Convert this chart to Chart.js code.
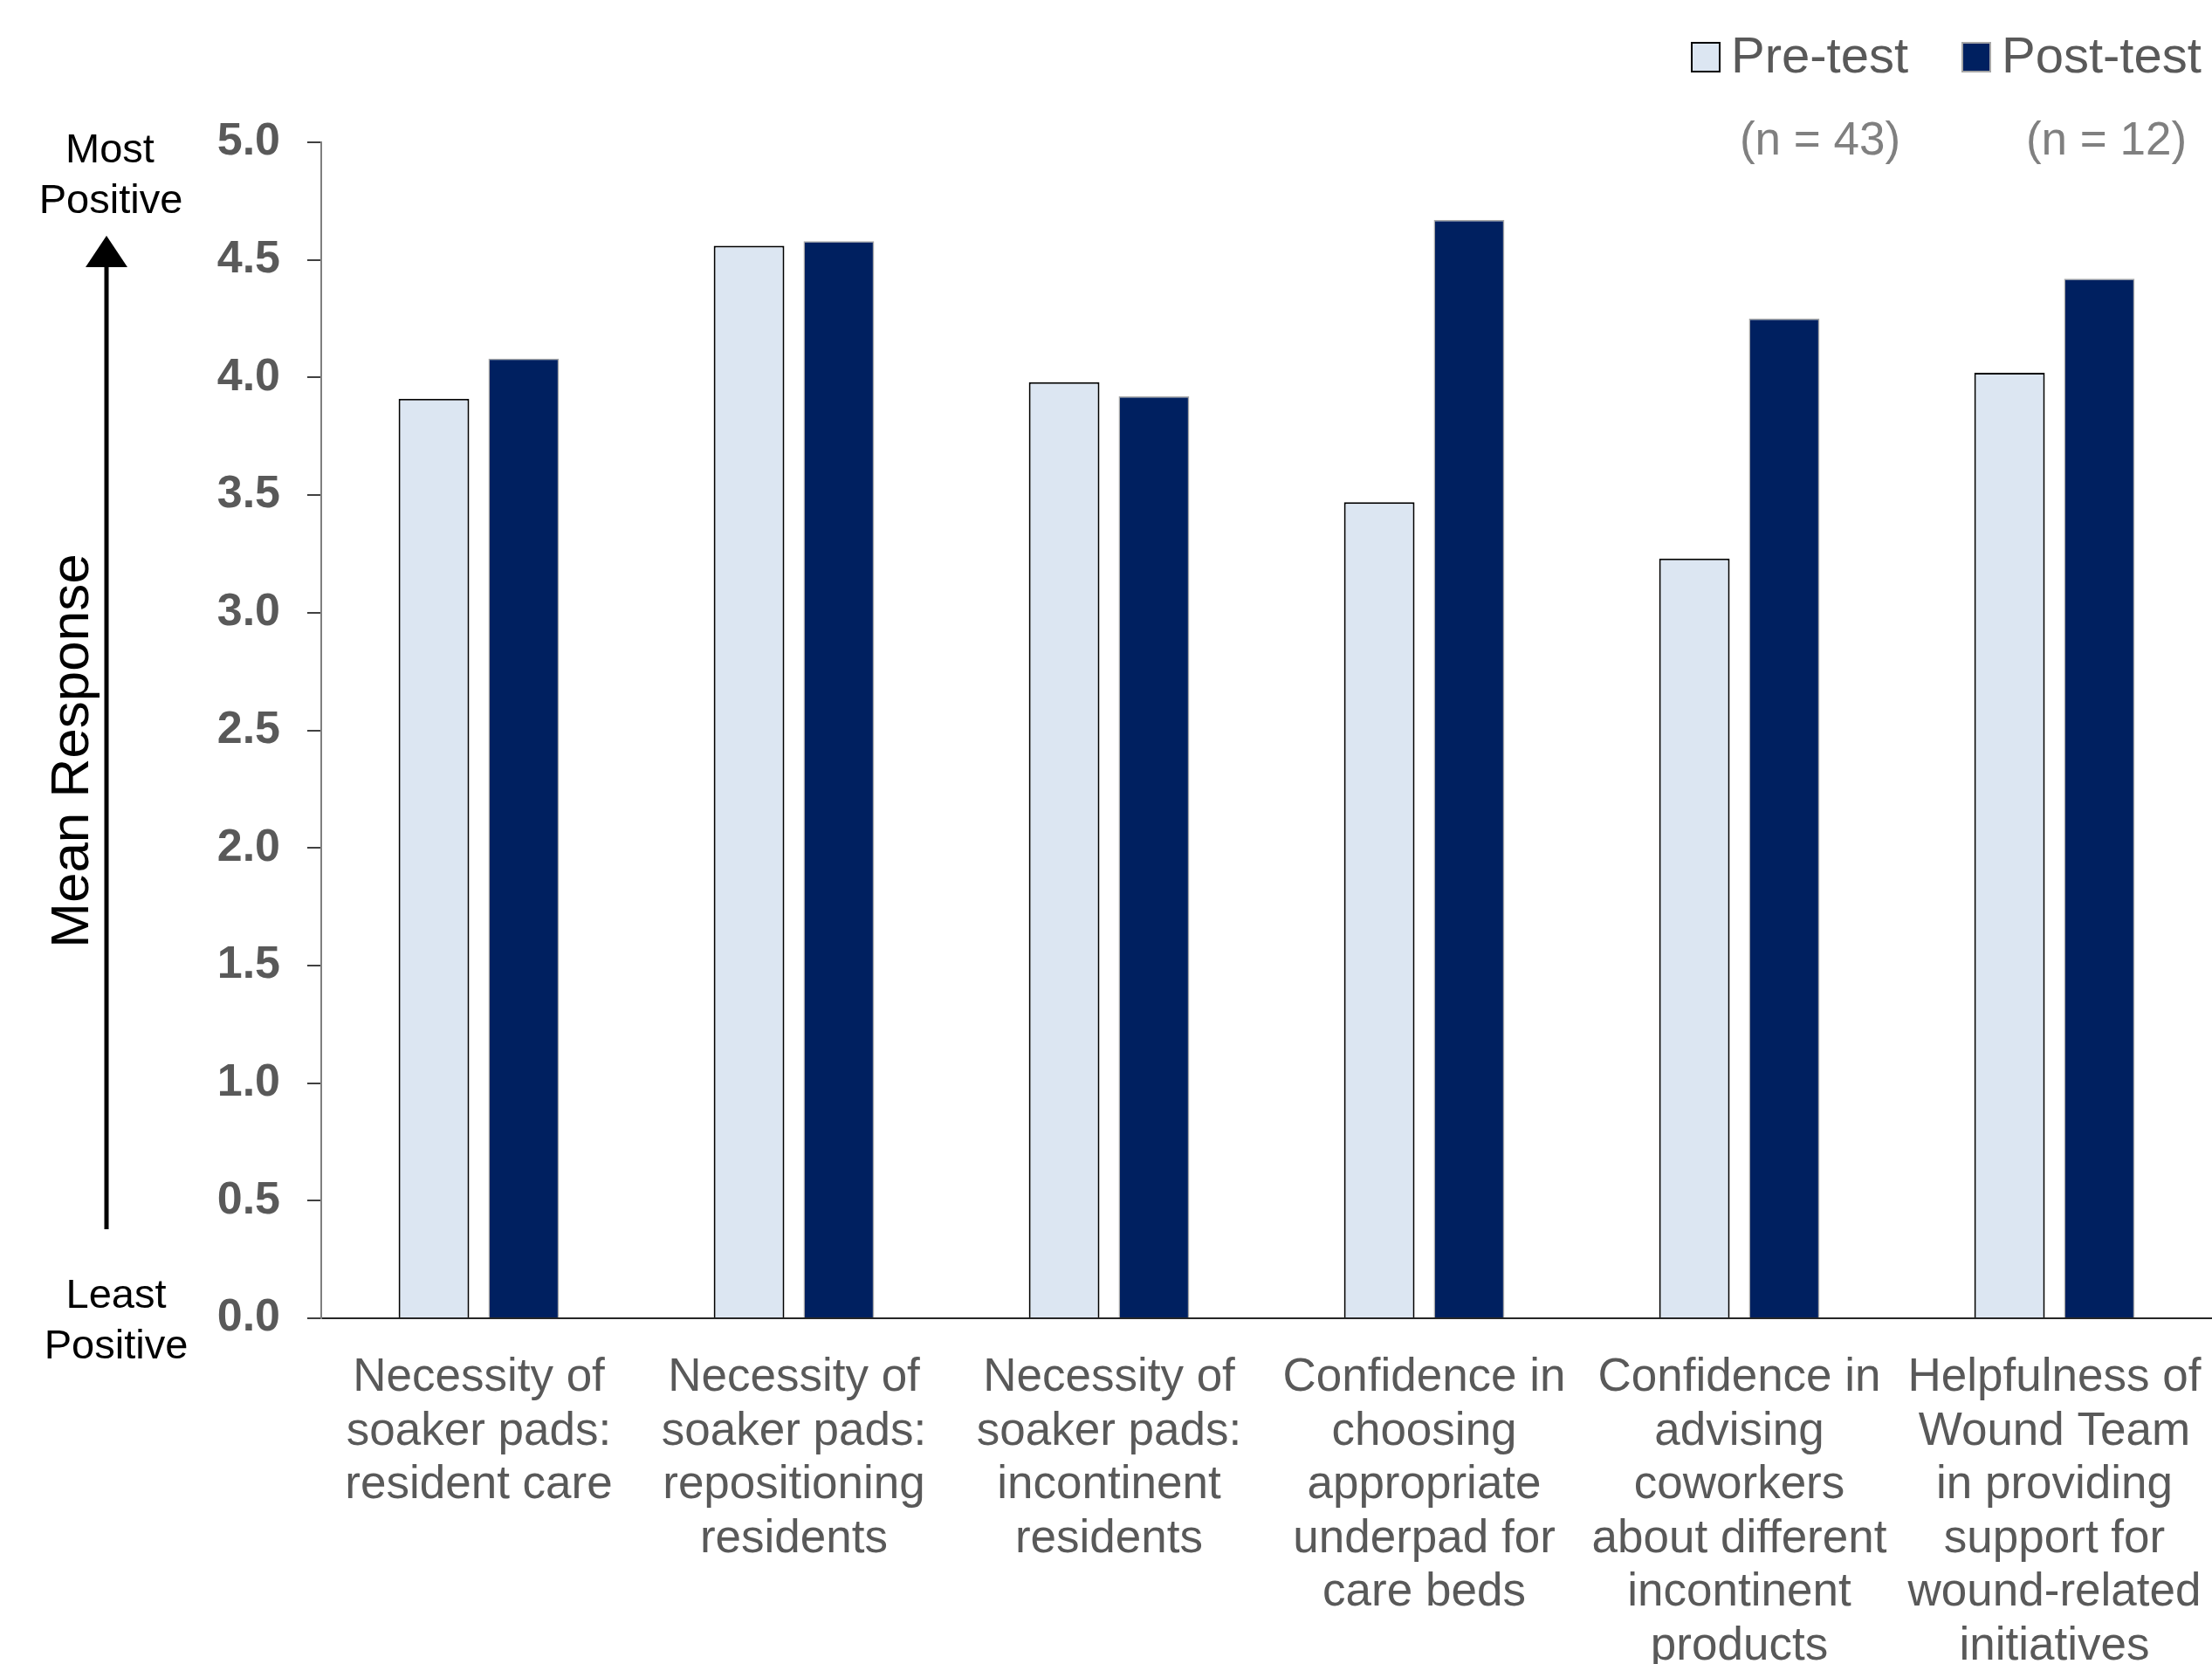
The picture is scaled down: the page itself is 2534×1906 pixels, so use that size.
<!DOCTYPE html>
<html>
<head>
<meta charset="utf-8">
<title>Mean Response</title>
<script src="https://cdn.jsdelivr.net/npm/chart.js@4"></script>
<style>
  html, body { margin: 0; padding: 0; background: #ffffff; }
  canvas { display: block; }
</style>
</head>
<body>
<canvas id="chart" width="2534" height="1906"></canvas>
<script>
const categories = [
  ["Necessity of", "soaker pads:", "resident care"],
  ["Necessity of", "soaker pads:", "repositioning", "residents"],
  ["Necessity of", "soaker pads:", "incontinent", "residents"],
  ["Confidence in", "choosing", "appropriate", "underpad for", "care beds"],
  ["Confidence in", "advising", "coworkers", "about different", "incontinent", "products"],
  ["Helpfulness of", "Wound Team", "in providing", "support for", "wound-related", "initiatives"]
];
const preTest = [3.91, 4.56, 3.98, 3.47, 3.23, 4.02];
const postTest = [4.08, 4.58, 3.92, 4.67, 4.25, 4.42];
const seriesNames = ["Pre-test", "Post-test"];
const sampleSizes = ["(n = 43)", "(n = 12)"];
const yTickValues = [0, 0.5, 1, 1.5, 2, 2.5, 3, 3.5, 4, 4.5, 5];

const FONT = "'Liberation Sans', Arial, sans-serif";

// left side notes, arrow and legend drawn on top of the chart
const annotations = {
  id: "annotations",
  afterDraw(chart) {
    const ctx = chart.ctx;
    ctx.save();

    // y axis title + direction arrow
    ctx.fillStyle = "#000000";
    ctx.textAlign = "center";
    ctx.textBaseline = "alphabetic";
    ctx.font = "47px " + FONT;
    ctx.fillText("Most", 126, 186);
    ctx.fillText("Positive", 127, 244);
    ctx.fillText("Least", 133, 1498);
    ctx.fillText("Positive", 133, 1556);

    ctx.strokeStyle = "#000000";
    ctx.lineWidth = 5;
    ctx.beginPath();
    ctx.moveTo(122, 1408);
    ctx.lineTo(122, 300);
    ctx.stroke();
    ctx.beginPath();
    ctx.moveTo(122, 270);
    ctx.lineTo(146, 306);
    ctx.lineTo(98, 306);
    ctx.closePath();
    ctx.fill();

    ctx.save();
    ctx.translate(84, 860);
    ctx.rotate(-Math.PI / 2);
    ctx.font = "62px " + FONT;
    ctx.textBaseline = "middle";
    ctx.fillText("Mean Response", 0, 0);
    ctx.restore();

    // legend
    const boxes = [1938, 2248];
    const nCenters = [2085, 2413];
    chart.data.datasets.forEach((ds, i) => {
      ctx.fillStyle = ds.backgroundColor;
      ctx.fillRect(boxes[i], 49, 32, 33);
      ctx.strokeStyle = ds.borderColor;
      ctx.lineWidth = 2;
      ctx.strokeRect(boxes[i], 49, 32, 33);

      ctx.fillStyle = "#595959";
      ctx.font = "58px " + FONT;
      ctx.textAlign = "left";
      ctx.fillText(ds.label, boxes[i] + 45, 83);

      ctx.fillStyle = "#808080";
      ctx.font = "53px " + FONT;
      ctx.textAlign = "center";
      ctx.fillText(sampleSizes[i], nCenters[i], 177);
    });

    ctx.restore();
  }
};

const ctx = document.getElementById("chart").getContext("2d");
const meanChart = new Chart(ctx, {
  type: "bar",
  data: {
    labels: categories,
    datasets: [
      {
        label: seriesNames[0],
        data: preTest,
        backgroundColor: "#dce6f2",
        borderColor: "#000000",
        borderWidth: 2,
        categoryPercentage: 0.57,
        barPercentage: 0.786
      },
      {
        label: seriesNames[1],
        data: postTest,
        backgroundColor: "#002060",
        borderColor: "#a6a6a6",
        borderWidth: 1.5,
        categoryPercentage: 0.57,
        barPercentage: 0.786
      }
    ]
  },
  options: {
    responsive: false,
    animation: false,
    devicePixelRatio: 1,
    layout: {
      padding: { top: 163, left: 248, right: 0, bottom: 0 }
    },
    plugins: {
      legend: { display: false },
      tooltip: { enabled: false }
    },
    scales: {
      x: {
        grid: { display: false },
        border: { display: true, color: "#262626", width: 2 },
        ticks: {
          color: "#595959",
          font: { family: FONT, size: 53, lineHeight: 1.16 },
          padding: 30,
          maxRotation: 0,
          autoSkip: false
        },
        afterFit(scale) {
          scale.height = 396;
          // let the axis run to the right edge like the original
          scale.paddingLeft = 0;
          scale.paddingRight = 0;
        }
      },
      y: {
        min: 0,
        max: 5,
        grid: {
          drawOnChartArea: false,
          drawTicks: true,
          tickLength: 16,
          color: "#404040",
          lineWidth: 2
        },
        border: { display: true, color: "#7f7f7f", width: 2 },
        afterBuildTicks(scale) {
          scale.ticks = yTickValues.map(v => ({ value: v }));
        },
        ticks: {
          color: "#595959",
          font: { family: FONT, size: 52, weight: "bold" },
          padding: 31,
          callback: v => v.toFixed(1)
        },
        afterFit(scale) {
          scale.width = 120;
        }
      }
    }
  },
  plugins: [annotations]
});
</script>
</body>
</html>
